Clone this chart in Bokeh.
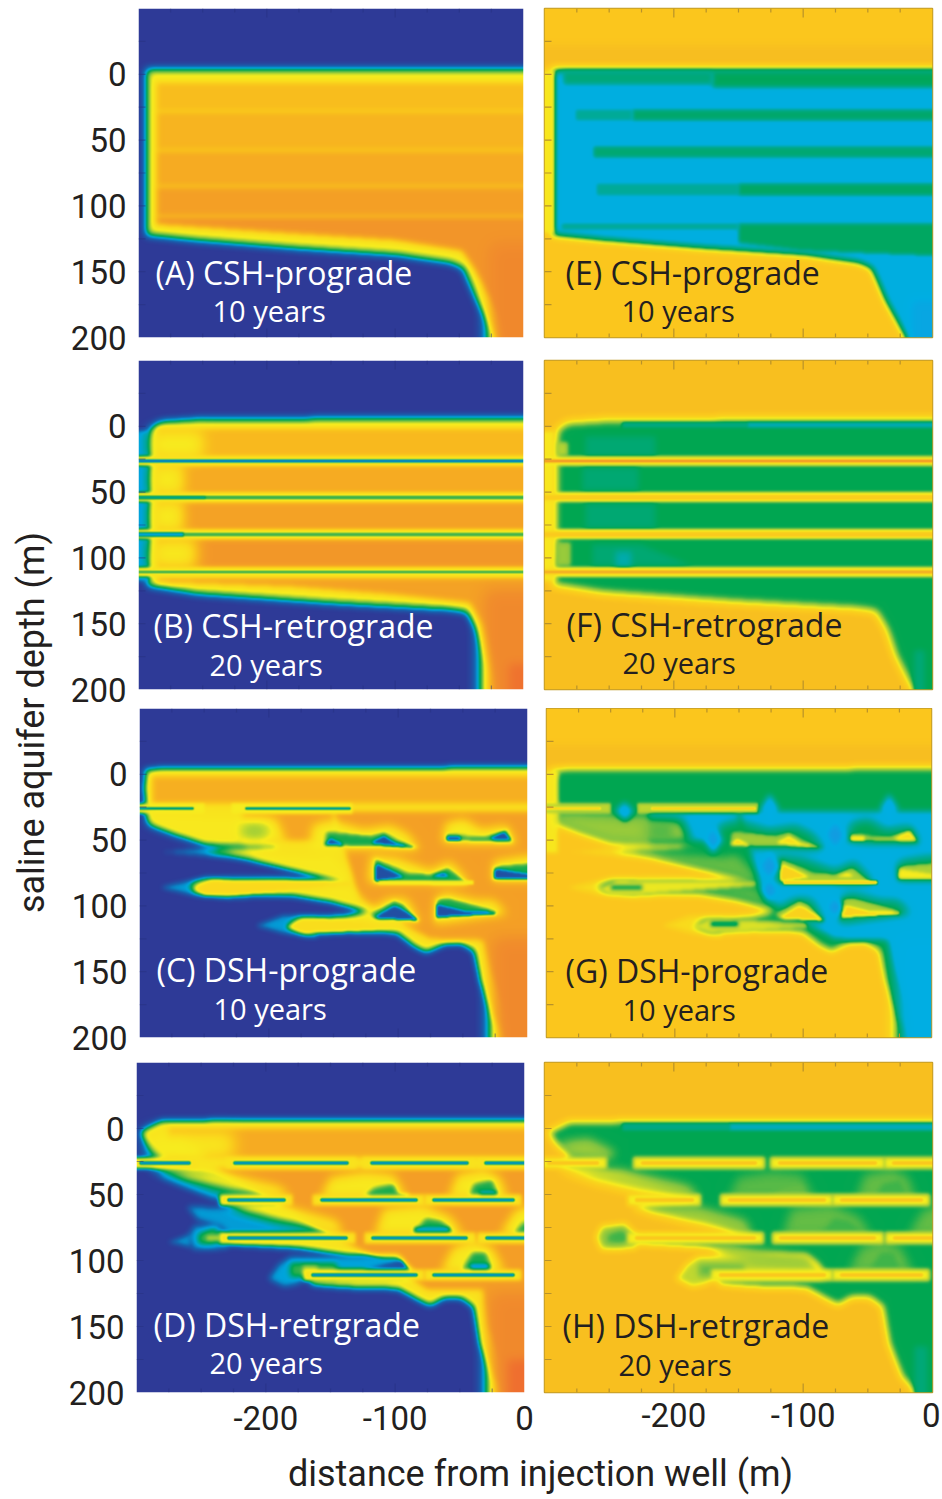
import numpy as np
from bokeh.plotting import figure
from bokeh.layouts import row, column
from bokeh.models import Range1d, LinearColorMapper, FixedTicker, Label
from bokeh.embed import file_html
from bokeh.resources import INLINE

# ---------- text ----------
DEPTH_TICKS = [0, 50, 100, 150, 200]
DIST_TICKS = [-200, -100, 0]
DIST_LABELS = {-200: "-200", -100: "-100", 0: "0"}
XLABEL = "distance from injection well (m)"
YLABEL = "saline aquifer depth (m)"
TICK_FONT = "Roboto"
LABEL_FONT = "Open Sans"

# ---------- colour ramps (scalar value, colour) ----------
LEFT_STOPS = [(-0.2, "#2E3A97"), (0.0, "#2E3A97"), (0.1, "#1565B0"), (0.18, "#00A4DC"), (0.28, "#00A651"),
              (0.38, "#6DBE45"), (0.5, "#F7EC1E"), (0.6, "#FAD91C"), (0.7, "#F9C21C"), (0.82, "#F5A623"),
              (0.93, "#F18F2B"), (1.0, "#F0852D"), (1.2, "#EE6030")]
RIGHT_STOPS = [(-0.2, "#EE7C2E"), (-0.05, "#F6BB21"), (0.0, "#FBC61D"), (0.12, "#F9D51C"), (0.2, "#F7EC1E"),
               (0.3, "#BFD730"), (0.4, "#7CC242"), (0.5, "#00A651"), (0.62, "#00A878"), (0.75, "#00AAA0"),
               (0.9, "#00AEDD"), (1.0, "#00AEE3"), (1.2, "#1E90E0")]

# ---------- plume shapes: (x list, depth list, left value, right value, softness) ----------
def R(x0, x1, d0, d1, vl, vr, s):
    return ([x0, x1, x1, x0], [d0, d0, d1, d1], vl, vr, s)

def DIA(xc, dc, rx, rd, vr, s):
    return ([xc - rx, xc, xc + rx, xc], [dc, dc - rd, dc, dc + rd], None, vr, s)

CSH_PRO = [
    R(-305, 5, -22, -6, None, -0.035, 3),
    ([-294, 5, 5, -10, -17, -23, -36, -47, -57, -99, -177, -254, -294],
     [-4, -4, 206, 206, 201, 195, 172, 147, 143, 137, 132, 126, 122], 0.52, 0.95, 4),
    R(-300, -292, -3, 121, None, 0.18, 2),
    R(-286, 5, 6, 28, 0.72, None, 3), R(-286, 5, 28, 58, 0.76, None, 3),
    R(-286, 5, 58, 85, 0.80, None, 3), R(-286, 5, 85, 108, 0.85, None, 3),
    ([-286, 5, 5, -5, -14, -26, -38, -48, -100, -180, -286],
     [108, 108, 205, 205, 195, 170, 148, 134, 126, 121, 114], 0.90, None, 3),
    R(-25, 5, 130, 205, 0.98, None, 8),
    R(-170, 5, -2, 10, None, 0.53, 2.5), R(-285, -170, -2, 8, None, 0.62, 2.5),
    R(-232, 5, 27, 35, None, 0.58, 2), R(-276, -232, 27, 35, None, 0.72, 2),
    R(-262, 5, 55, 63, None, 0.6, 2), R(-260, -150, 83, 92, None, 0.72, 2),
    R(-150, 5, 83, 92, None, 0.56, 2),
    ([-150, 5, 5, -100, -150], [113, 113, 138, 134, 128], None, 0.55, 2),
    R(-287, -150, 113, 118, None, 0.7, 2),
    R(-18, 5, 170, 205, None, 1.05, 5),
]

CSH_RET = [
    ([-291, -283, -254, -184, 5, 5, -8, -13, -18, -29, -36, -44, -57, -151, -254, -293],
     [3, -3, -5, -5.5, -6, 206, 206, 201, 196, 174, 154, 141, 139, 134, 127, 121], 0.52, 0.5, 4),
    R(-305, -292, 3, 118, 0.17, 0.18, 2),
    R(-285, 5, 2, 24, 0.74, None, 3), R(-285, 5, 29, 52, 0.80, None, 3),
    R(-285, 5, 57, 80, 0.84, None, 3), R(-285, 5, 85, 108, 0.89, None, 3),
    ([-285, 5, 5, -5, -11, -24, -31, -42, -100, -180, -285],
     [115, 115, 205, 205, 195, 170, 150, 134, 128, 122, 118], 0.84, None, 3),
    R(-30, 5, 125, 205, 0.97, None, 8), R(-12, 2, 180, 203, 1.1, None, 5),
    R(-290, -250, 4, 24, 0.5, None, 7), R(-290, -265, 29, 52, 0.52, None, 6),
    R(-290, -265, 57, 80, 0.52, None, 6), R(-290, -255, 85, 108, 0.52, None, 7),
    R(-268, -214, 8, 23, None, 0.6, 3), R(-271, -227, 31, 49, None, 0.6, 3),
    R(-268, -214, 59, 78, None, 0.6, 3),
    ([-263, -225, -186, -263], [90, 90, 106, 106], None, 0.6, 3),
    R(-245, -233, 95, 107, None, 0.78, 3),
    R(-240, -143, -3, 1, None, 0.66, 1.5), R(-143, 5, -3, 1, None, 0.82, 1.5),
    R(-14, -6, 170, 205, None, 0.62, 3),
    R(-291, -282, 12, 22, None, 0.32, 2), R(-291, -280, 88, 106, None, 0.36, 2),
    R(-300, 5, 23, 29.5, 0.55, 0.2, 1.5), R(-300, 5, 50.5, 57.5, 0.55, 0.15, 1.5),
    R(-300, 5, 78.5, 85.5, 0.55, 0.15, 1.5), R(-300, 5, 107, 114.5, 0.55, 0.15, 1.5),
    R(-300, 5, 25.2, 27.3, 0.1, -0.16, 0.8), R(-300, 5, 52.7, 55.5, 0.33, 0.05, 0.8),
    R(-300, 5, 80.5, 84, 0.33, 0.03, 1), R(-300, 5, 109.5, 112, 0.33, -0.1, 0.8),
    R(-300, -248, 53, 55, 0.2, None, 1), R(-300, -265, 80.5, 84, 0.18, None, 1),
]

DSH_PRO = [
    R(-305, 5, -22, -6, None, -0.035, 3),
    ([-281, -248, -230, -248], [59, 56, 63, 62], 0.16, 0.12, 2.5),
    ([-284, -258, -230, -230, -258], [86, 80, 80, 94, 92], 0.17, 0.14, 2.5),
    ([-210, -188, -163, -163, -188], [115, 107, 107, 124, 121], 0.17, 0.14, 2.5),
    ([-295, 1, 1, -10, -16, -26, -36, -41, -52, -65, -78, -88, -101, -139, -173, -185, -178, -142, -121, -152, -183,
      -230, -255, -261, -250, -204, -139, -178, -217, -250, -186, -248, -273, -292, -295, -296],
     [-4, -5, 206, 206, 199, 185, 157, 134, 128, 129, 135, 130, 120, 119, 121, 116, 110, 108, 104, 96, 91,
      92, 90, 85, 80, 80, 81, 72, 63, 58, 54, 52, 44, 37, 29, 10], 0.55, 0.5, 3.5),
    R(-300, -291, -3, 60, None, 0.18, 2),
    R(-290, 5, 2, 22, 0.78, 0.5, 3),
    ([-150, 5, 5, -6, -16, -28, -34, -75, -100, -130], [28, 28, 205, 205, 182, 150, 126, 125, 112, 95], 0.85, 0.95, 3),
    R(-220, -150, 28, 50, 0.82, 0.95, 3),
    R(-26, 5, 125, 205, 0.97, 1.0, 8),
    R(-300, -250, 22.5, 29.5, 0.5, 0.3, 1.5), R(-229, -135, 22.5, 29.5, 0.5, 0.3, 1.5),
    R(-300, -258, 25.5, 27, 0.12, 0.05, 0.8), R(-218, -137, 25.5, 27, 0.14, 0.05, 0.8),
    ([-292, -194, -186, -248, -273, -292], [30, 34, 53, 52, 44, 37], 0.52, 0.36, 5),
    R(-222, -200, 36, 50, 0.42, 0.44, 6),
    ([-250, -163, -152, -142, -136, -217], [58, 63, 61, 71, 82, 63], 0.52, 0.42, 4),
    ([-230, -139, -119, -152, -183], [83, 86, 102, 93, 88], 0.52, 0.42, 5),
    ([-258, -245, -137, -137, -224, -250], [87, 81, 82, 84, 91, 91], 0.6, 0.22, 2),
    R(-250, -225, 84, 88, None, 0.5, 2),
    ([-186, -173, -98, -96, -139, -173], [116, 110, 113, 116, 119, 120], 0.58, 0.25, 2),
    R(-172, -150, 112, 116, None, 0.6, 2),
    ([-168, -166, -152, -127, -106, -93, -83], [56, 39, 35, 42, 39, 45, 57], 0.5, 0.5, 5),
    ([-157, -155, -142, -121, -111, -101, -83], [54, 44, 45, 47, 44, 50, 56], 0.3, 0.35, 2),
    ([-156, -152, -145, -142], [53, 49, 52, 54], 0.05, 0.12, 1.5),
    ([-121, -111, -103, -85], [52, 47, 52, 56], 0.05, 0.15, 1.5),
    ([-66, -63, -49, -36, -16, -8], [52, 37, 34, 42, 39, 53], 0.5, 0.5, 5),
    ([-63, -63, -47, -31, -16, -11], [50, 45, 47, 47, 42, 52], 0.3, 0.33, 2),
    ([-30, -18, -12], [49, 44, 50], 0.05, 0.15, 1.5),
    R(-63, -52, 47, 50, 0.05, 0.15, 1.5),
    ([-123, -121, -101, -75, -60, -44], [82, 62, 64, 73, 66, 83], 0.5, 0.5, 5),
    ([-118, -118, -93, -75, -62, -45], [82, 64, 75, 76, 71, 83], 0.3, 0.33, 2),
    ([-118, -117, -96], [81, 68, 78], 0.05, 0.1, 1.5),
    ([-75, -65, -60], [78, 75, 78], 0.05, 0.15, 1.5),
    R(-115, -42, 81, 84, 0.5, 0.1, 1),
    ([-27, -26, 1, 1], [81, 66, 62, 81], 0.5, 0.5, 5),
    ([-26, -26, 1, 1], [80, 70, 68, 80], 0.3, 0.33, 2),
    ([-26, -25, 1, 1], [79, 72, 76, 79], 0.05, 0.2, 1.5),
    ([-127, -106, -93, -83, -121], [106, 94, 95, 113, 111], 0.5, 0.5, 5),
    ([-121, -103, -96, -84, -119], [106, 96, 99, 111, 109], 0.3, 0.33, 2),
    ([-119, -103, -98, -84], [109, 100, 102, 111], 0.05, 0.1, 1.5),
    ([-72, -71, -63, -39, -26, -16, -67], [113, 94, 90, 96, 96, 106, 113], 0.5, 0.5, 5),
    ([-70, -70, -62, -39, -21, -67], [111, 95, 94, 100, 105, 109], 0.3, 0.33, 2),
    ([-70, -70, -49, -34, -21, -69], [109, 99, 104, 104, 106, 108], 0.05, 0.1, 1.5),
    DIA(-126, 26, 7, 11, 1.0, 3), DIA(-239, 28, 7, 7, 1.0, 3),
    DIA(-33, 26, 7, 11, 1.0, 3), DIA(-170, 50, 7, 10, 1.1, 3),
    DIA(-75, 46, 7, 10, 1.12, 3), DIA(-126, 70, 7, 10, 1.12, 3),
    DIA(-126, 88, 6, 8, 1.12, 3), DIA(-75, 101, 6, 8, 1.12, 3),
]

DSH_RET_BARRIERS = [(-298, -258, 26), (-225, -136, 26), (-119, -43, 26), (-31, 5, 26),
                    (-230, -185, 54), (-158, -83, 54), (-71, -8, 54),
                    (-230, -137, 83), (-118, -44, 83), (-30, 5, 83),
                    (-165, -83, 111), (-71, -8, 111)]
DSH_RET = [
    ([-297, -281, -227, 1, 1, -9, -13, -24, -34, -39, -49, -62, -73, -83, -98, -137, -164, -167, -83, -89, -98, -137,
      -176, -227, -235, -248, -252, -243, -230, -137, -150, -176, -214, -232, -186, -189, -214, -240, -279, -289, -279, -292],
     [2.5, -5, -6, -6, 206, 206, 200, 188, 163, 135, 128, 128, 134, 129, 121, 120, 118, 113, 113, 103, 97, 96,
      90, 87, 85, 88, 82, 78, 83, 82, 78, 69, 63, 59, 55, 52, 45, 36, 30, 28, 21, 11], 0.55, 0.5, 3.5),
    R(-275, 5, 0, 22, 0.8, None, 3),
    R(-290, -225, 3, 22, 0.52, None, 8),
    ([-240, 5, 5, -6, -16, -28, -32, -75, -100, -160, -200], [30, 30, 205, 205, 182, 150, 122, 122, 105, 75, 50], 0.86, None, 3),
    R(-26, 5, 125, 205, 0.97, None, 8), R(-13, 2, 175, 205, 1.12, None, 5),
    ([-289, -279, -240, -186, -189, -214, -261, -289], [30, 38, 54, 58, 54, 50, 42, 32], 0.17, None, 3),
    ([-261, -230, -202, -176, -140, -227, -235, -253], [59, 60, 66, 74, 82, 83, 74, 69], 0.17, None, 3),
    ([-275, -258, -258], [86, 80, 90], 0.16, None, 2.5),
    ([-260, -256, -238, -227, -230, -256], [82, 74, 72, 82, 91, 92], 0.17, 0.35, 3),
    ([-252, -240, -232, -240, -252], [80, 76, 83, 87, 87], 0.33, 0.45, 3),
    R(-246, -236, 81, 85, 0.45, 0.45, 2),
    ([-198, -190, -181, -145, -98, -85, -124, -165, -176, -186],
     [114, 103, 97, 97, 96, 110, 112, 113, 118, 120], 0.18, 0.3, 3),
    R(-181, -145, 102, 112, 0.33, 0.42, 3), R(-172, -160, 104, 110, 0.42, None, 2),
    ([-125, -95, -88, -120], [107, 100, 110, 110], 0.05, None, 2),
    ([-289, -266, -245, -250, -279], [11, 8, 18, 23, 21], 0.5, 0.35, 5),
    ([-289, -240, -189, -181, -194, -227, -261], [30, 32, 44, 51, 52, 48, 40], 0.52, 0.33, 5),
    ([-232, -181, -145, -140, -189], [59, 60, 70, 81, 70], 0.52, 0.35, 5),
    ([-160, -98, -91, -137, -171], [89, 98, 107, 104, 94], None, 0.36, 5),
    ([-158, -150, -124, -101, -91], [53, 37, 33, 35, 53], 0.52, 0.43, 5),
    ([-127, -116, -101, -96], [53, 45, 42, 53], 0.3, 0.42, 2.5), R(-120, -90, 50, 54, 0.12, None, 2),
    ([-59, -52, -31, -19, -13], [53, 35, 31, 37, 53], 0.52, 0.42, 5),
    ([-44, -39, -25, -19], [53, 42, 39, 53], 0.3, 0.45, 2.5), R(-35, -22, 48, 54, 0.12, None, 2),
    ([-116, -109, -78, -57, -47], [81, 61, 58, 67, 81], 0.52, 0.42, 5),
    ([-88, -76, -64, -52], [81, 68, 70, 81], 0.3, 0.45, 2.5), R(-85, -58, 75, 81, 0.15, None, 2),
    ([-19, -7, 5, 5], [81, 62, 58, 81], 0.5, 0.42, 5), ([-10, 5, 5], [81, 66, 81], 0.3, None, 2.5),
    ([-65, -55, -40, -25, -15], [109, 90, 85, 90, 109], 0.52, 0.42, 5),
    ([-50, -40, -30, -24], [109, 94, 94, 109], 0.3, 0.45, 2.5), R(-42, -28, 103, 110, 0.12, None, 2),
    R(-240, -157, -4, 1.5, None, 0.66, 1.5), R(-157, 5, -4, 1.5, None, 0.82, 1.5),
    R(-14, -4, 165, 205, None, 0.62, 3),
]
for x0, x1, dd in DSH_RET_BARRIERS:
    DSH_RET.append(R(x0 - 6, x1 + 6, dd - 4, dd + 4, 0.55, 0.2, 2))
for x0, x1, dd in DSH_RET_BARRIERS:
    DSH_RET.append(R(x0, x1, dd - 1, dd + 1, 0.1, -0.02, 1))

# ---------- panels ----------
PANELS = [
    ("L", CSH_PRO, 0.0, "(A) CSH-prograde", "10 years", 138, 385, 8, 329, 155, 272, 212, 310),
    ("R", CSH_PRO, 0.0, "(E) CSH-prograde", "10 years", 544, 388, 8, 329, 565, 272, 621, 310),
    ("L", CSH_RET, 0.0, "(B) CSH-retrograde", "20 years", 138, 385, 360, 329, 153, 625, 209, 664),
    ("R", CSH_RET, -0.03, "(F) CSH-retrograde", "20 years", 544, 388, 360, 329, 566, 624, 622, 662),
    ("L", DSH_PRO, 0.0, "(C) DSH-prograde", "10 years", 139, 388, 708, 329, 156, 969, 213, 1008),
    ("R", DSH_PRO, 0.0, "(G) DSH-prograde", "10 years", 546, 385, 708, 329, 565, 970, 622, 1009),
    ("L", DSH_RET, 0.0, "(D) DSH-retrgrade", "20 years", 136, 388, 1062, 330, 153, 1324, 209, 1362),
    ("R", DSH_RET, -0.03, "(H) DSH-retrgrade", "20 years", 544, 388, 1062, 330, 562, 1325, 618, 1364),
]
ROW_EDGES = [(0, 358), (358, 708), (708, 1058), (1058, 1448)]
COL_EDGES = [(60, 535), (535, 940)]
TICKS_25 = [-275, -250, -225, -175, -150, -125, -75, -50, -25]
TICKS_100 = [-200, -100]
LEFT_TICKS = [-25, 0, 25, 50, 75, 100, 125, 150, 175]
X0, X1, D0, D1 = -300.0, 0.0, 200.0, -50.0

# ---------- rendering helpers ----------
def hex2rgb(h):
    return np.array([int(h[i:i + 2], 16) for i in (1, 3, 5)], float)

def make_palette(stops, n=512):
    vals = [s[0] for s in stops]
    cols = np.array([hex2rgb(s[1]) for s in stops])
    t = np.linspace(vals[0], vals[-1], n)
    rgb = np.stack([np.interp(t, vals, cols[:, k]) for k in range(3)], 1)
    return ["#%02X%02X%02X" % tuple(int(round(c)) for c in r) for r in rgb]

def inside(px, py, xs, ys):
    m = np.zeros(px.shape, bool)
    n = len(xs)
    for i in range(n):
        xi, yi, xj, yj = xs[i], ys[i], xs[(i + 1) % n], ys[(i + 1) % n]
        if yi == yj:
            continue
        m ^= ((yi > py) != (yj > py)) & (px < (xj - xi) * (py - yi) / (yj - yi) + xi)
    return m

def blur1(a, sigma, axis):
    r = max(1, int(np.ceil(sigma * 2.5)))
    k = np.exp(-0.5 * (np.arange(-r, r + 1) / sigma) ** 2)
    k /= k.sum()
    pad = [(0, 0), (0, 0)]
    pad[axis] = (r, r)
    b = np.pad(a, pad, mode="edge")
    out = np.zeros_like(a)
    for off, w in enumerate(k):
        if axis == 0:
            out += w * b[off:off + a.shape[0], :]
        else:
            out += w * b[:, off:off + a.shape[1]]
    return out

def field(shapes, side, bg, w, h):
    xs = X0 + (np.arange(w) + 0.5) / w * (X1 - X0)
    ds = D1 + (np.arange(h) + 0.5) / h * (D0 - D1)
    px, py = np.meshgrid(xs, ds)
    f = np.full((h, w), float(bg))
    for sx, sd, vl, vr, s in shapes:
        v = vl if side == "L" else vr
        if v is None:
            continue
        m = inside(px, py, sx, sd).astype(float)
        m = blur1(blur1(m, s, 0), s, 1)
        f = f * (1 - m) + v * m
    return f

PAL_L = make_palette(LEFT_STOPS)
PAL_R = make_palette(RIGHT_STOPS)

rows = []
for ri, (ry0, ry1) in enumerate(ROW_EDGES):
    kids = []
    for ci, (cx0, cx1) in enumerate(COL_EDGES):
        side, shapes, bg, title, when, fx, fw, fy, fh, tx, ty, wx, wy = PANELS[ri * 2 + ci]
        p = figure(width=cx1 - cx0, height=ry1 - ry0, output_backend="svg", toolbar_location=None,
                   x_range=Range1d(X0, X1), y_range=Range1d(D0, D1),
                   min_border_left=fx - cx0, min_border_right=cx1 - fx - fw,
                   min_border_top=fy - ry0, min_border_bottom=ry1 - fy - fh)
        p.grid.visible = False
        side_color = "#B8922A" if side == "R" else "#26307F"
        p.outline_line_color = "#C09A2A" if side == "R" else None
        p.outline_line_width = 1.5
        p.background_fill_color = None
        p.border_fill_color = None

        f = field(shapes, side, bg, fw, fh)
        cm = LinearColorMapper(palette=PAL_L if side == "L" else PAL_R, low=-0.2, high=1.2)
        p.image(image=[f.astype("float32")], x=X0, y=D1, dw=X1 - X0, dh=D0 - D1, color_mapper=cm)

        pxd = (D0 - D1) / fh
        pxm = (X1 - X0) / fw
        alpha = 1.0 if side == "R" else 0.5
        for t, ln in [(TICKS_25, 4), (TICKS_100, 9)]:
            p.segment(x0=t, x1=t, y0=[D1] * len(t), y1=[D1 + ln * pxd] * len(t), line_color=side_color, line_width=1.2, line_alpha=alpha)
            p.segment(x0=t, x1=t, y0=[D0] * len(t), y1=[D0 - ln * pxd] * len(t), line_color=side_color, line_width=1.2, line_alpha=alpha)
        p.segment(x0=[X0] * len(LEFT_TICKS), x1=[X0 + 7 * pxm] * len(LEFT_TICKS), y0=LEFT_TICKS, y1=LEFT_TICKS,
                  line_color=side_color, line_width=1.2, line_alpha=alpha)

        for ax in p.xaxis:
            if ri == 3:
                ax.ticker = FixedTicker(ticks=DIST_TICKS)
                ax.major_label_overrides = DIST_LABELS
                ax.major_tick_line_color = None
                ax.minor_tick_line_color = None
                ax.axis_line_color = None
                ax.major_label_text_font = TICK_FONT
                ax.major_label_text_font_size = "33px"
                ax.major_label_text_color = "#231F20"
                ax.major_label_standoff = 7 if ci == 0 else 4
            else:
                ax.visible = False
        for ax in p.yaxis:
            if ci == 0:
                ax.ticker = FixedTicker(ticks=DEPTH_TICKS)
                ax.major_tick_line_color = None
                ax.minor_tick_line_color = None
                ax.axis_line_color = None
                ax.major_label_text_font = TICK_FONT
                ax.major_label_text_font_size = "33px"
                ax.major_label_text_color = "#231F20"
                ax.major_label_standoff = 6
            else:
                ax.visible = False

        col = "#FFFFFF" if side == "L" else "#231F20"
        for text, lx, ly, sz in [(title, tx, ty, "32px"), (when, wx, wy, "29px")]:
            dx = X0 + (lx - fx) * pxm
            dy = D1 + (ly - fy) * pxd
            p.add_layout(Label(x=dx, y=dy, text=text, text_color=col, text_font=LABEL_FONT, text_font_size=sz,
                               text_baseline="middle", text_align="left"))
        kids.append(p)
    rows.append(row(*kids, spacing=0))

ylab = figure(width=60, height=1448, output_backend="svg", toolbar_location=None,
              x_range=Range1d(0, 60), y_range=Range1d(1448, 0), min_border=0)
ylab.axis.visible = False
ylab.grid.visible = False
ylab.outline_line_color = None
ylab.add_layout(Label(x=31, y=722, text=YLABEL, angle=np.pi / 2, text_font=TICK_FONT, text_font_size="36px",
                      text_align="center", text_baseline="middle", text_color="#231F20"))

xlab = figure(width=940, height=50, output_backend="svg", toolbar_location=None,
              x_range=Range1d(0, 940), y_range=Range1d(50, 0), min_border=0)
xlab.axis.visible = False
xlab.grid.visible = False
xlab.outline_line_color = None
xlab.add_layout(Label(x=540, y=25, text=XLABEL, text_font=TICK_FONT, text_font_size="36px",
                      text_align="center", text_baseline="middle", text_color="#231F20"))

page = column(row(ylab, column(*rows, spacing=0), spacing=0), xlab, spacing=0)
open("out.html", "w").write(file_html(page, INLINE))
